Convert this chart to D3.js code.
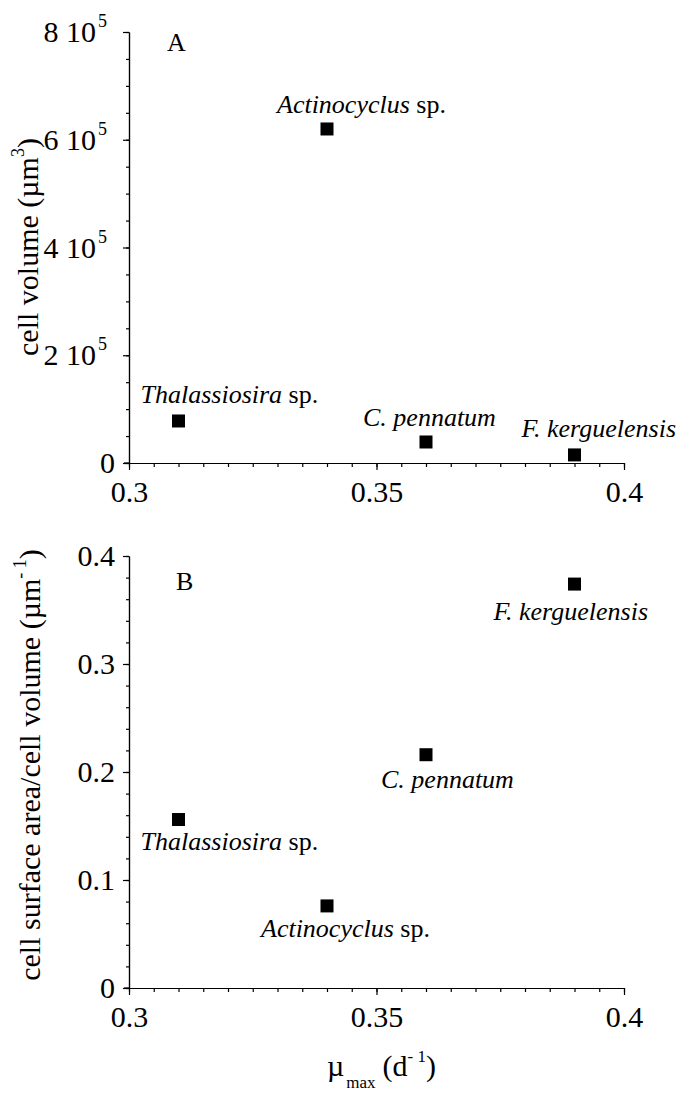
<!DOCTYPE html>
<html>
<head>
<meta charset="utf-8">
<script src="https://cdn.jsdelivr.net/npm/d3@7"></script>
<style>
body { margin: 0; background: #fff; }
</style>
</head>
<body>
<div id="chart"></div>
<script>
var width = 680;
var height = 1095;
var serif = '"Liberation Serif", "Times New Roman", serif';

// data
var genus = ['Thalassiosira', 'Actinocyclus', 'C. pennatum', 'F. kerguelensis'];
var withSp = [true, true, false, false];
var muMax = [0.31, 0.34, 0.36, 0.39];
var cellVolume = [78000, 620000, 39000, 15000];
var surfVol = [0.156, 0.076, 0.216, 0.374];

var xTicks = [0.3, 0.35, 0.4];
var volTicks = [0, 200000, 400000, 600000, 800000];
var volTickLabels = ['0', '2 10', '4 10', '6 10', '8 10'];
var svTicks = [0, 0.1, 0.2, 0.3, 0.4];

// label offsets (dx, dy) from the marker, per panel
var offA = [[-38, -18], [-50, -16], [-63, -16], [-53, -18]];
var offB = [[-38, 30], [-66, 31], [-45, 33], [-81, 36]];

var svg = d3.select('#chart').append('svg')
    .attr('width', width)
    .attr('height', height)
    .attr('font-family', serif);

var x = d3.scaleLinear().domain([0.3, 0.4]).range([129, 624]);
var yA = d3.scaleLinear().domain([0, 800000]).range([463, 32]);
var yB = d3.scaleLinear().domain([0, 0.4]).range([988, 556]);

function drawXAxis(y0) {
    var g = svg.append('g').attr('transform', 'translate(0,' + y0 + ')');
    // minor ticks
    g.append('g')
        .call(d3.axisBottom(x).tickValues(d3.range(0.3, 0.4001, 0.005)).tickSize(4).tickSizeOuter(0).tickFormat(''));
    g.append('g')
        .call(d3.axisBottom(x).tickValues(xTicks).tickSize(7).tickSizeOuter(0).tickPadding(8)
            .tickFormat(function (d) { return d3.format('')(+d.toFixed(2)); }))
        .selectAll('text')
        .attr('font-size', 30)
        .attr('dy', '0.8em');
    g.selectAll('g').attr('font-family', serif);
    g.selectAll('path, line').attr('stroke', '#000').attr('stroke-width', 1.2);
    // axis line runs a little left of the y axis
    g.append('line').attr('x1', x(0.3) - 5).attr('x2', x(0.3)).attr('stroke', '#000').attr('stroke-width', 1.2);
}

function drawYAxis(y, ticks, minorStep, fmt) {
    var g = svg.append('g').attr('transform', 'translate(129,0)');
    var dom = y.domain();
    g.append('g')
        .call(d3.axisLeft(y).tickValues(d3.range(dom[0], dom[1] + minorStep / 2, minorStep)).tickSize(3).tickSizeOuter(0).tickFormat(''));
    var major = g.append('g')
        .call(d3.axisLeft(y).tickValues(ticks).tickSize(6).tickSizeOuter(0).tickPadding(8).tickFormat(fmt));
    major.selectAll('text').attr('font-size', 30);
    g.selectAll('g').attr('font-family', serif);
    g.selectAll('path, line').attr('stroke', '#000').attr('stroke-width', 1.2);
    return major;
}

function drawPoints(y, vals, offs) {
    var pts = svg.append('g');
    pts.selectAll('rect')
        .data(muMax)
        .enter()
        .append('rect')
        .attr('x', function (d) { return x(d) - 6.5; })
        .attr('y', function (d, i) { return y(vals[i]) - 6.5; })
        .attr('width', 13)
        .attr('height', 13)
        .attr('fill', '#000');

    var labels = pts.selectAll('text')
        .data(muMax)
        .enter()
        .append('text')
        .attr('x', function (d, i) { return x(d) + offs[i][0]; })
        .attr('y', function (d, i) { return y(vals[i]) + offs[i][1]; })
        .attr('font-size', 26);
    labels.append('tspan')
        .attr('font-style', 'italic')
        .text(function (d, i) { return genus[i]; });
    labels.append('tspan')
        .text(function (d, i) { return withSp[i] ? ' sp.' : ''; });
}

// ---- panel A
drawXAxis(463);
var majA = drawYAxis(yA, volTicks, 50000, function (d, i) { return volTickLabels[i]; });
majA.selectAll('.tick text')
    .attr('dx', function (d, i) { return i === 0 ? 0 : -8; })
    .each(function (d, i) {
        if (i === 0) return;
        d3.select(this).append('tspan')
            .attr('dx', 2)
            .attr('dy', -15)
            .attr('font-size', 18)
            .text('5');
    });
drawPoints(yA, cellVolume, offA);

svg.append('text').attr('x', 167).attr('y', 51).attr('font-size', 26).text('A');

var titA = svg.append('text')
    .attr('transform', 'translate(38,247) rotate(-90)')
    .attr('text-anchor', 'middle')
    .attr('font-size', 30);
titA.append('tspan').text('cell volume (\u00b5m');
titA.append('tspan').attr('dy', -14).attr('font-size', 18).text('3');
titA.append('tspan').attr('dy', 14).text(')');

// ---- panel B
drawXAxis(988);
drawYAxis(yB, svTicks, 0.02, function (d) { return d === 0 ? '0' : d3.format('.1f')(d); });
drawPoints(yB, surfVol, offB);

svg.append('text').attr('x', 176).attr('y', 590).attr('font-size', 26).text('B');

var titB = svg.append('text')
    .attr('transform', 'translate(40,765) rotate(-90)')
    .attr('text-anchor', 'middle')
    .attr('font-size', 30);
titB.append('tspan').text('cell surface area/cell volume (\u00b5m');
titB.append('tspan').attr('dy', -14).attr('font-size', 18).text('- 1');
titB.append('tspan').attr('dy', 14).text(')');

// ---- shared x title
var xt = svg.append('text')
    .attr('x', 327)
    .attr('y', 1076)
    .attr('font-size', 30);
xt.append('tspan').text('\u00b5');
xt.append('tspan').attr('dy', 12).attr('dx', 2).attr('font-size', 17).text('max');
xt.append('tspan').attr('dy', -12).attr('dx', 7).text('(d');
xt.append('tspan').attr('dy', -14).attr('font-size', 17).text('- 1');
xt.append('tspan').attr('dy', 14).text(')');
</script>
</body>
</html>
